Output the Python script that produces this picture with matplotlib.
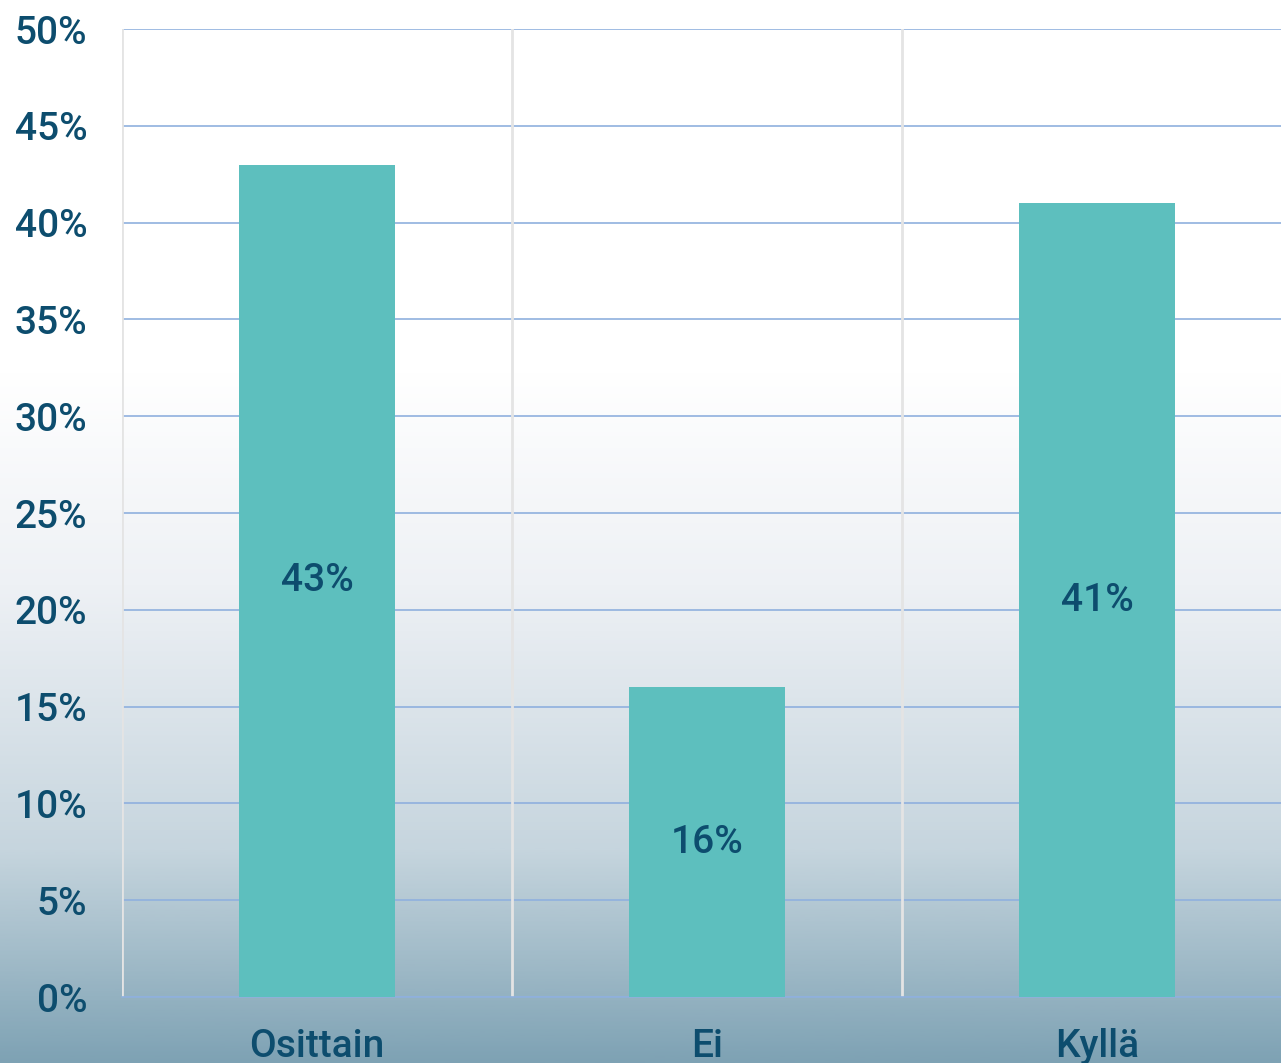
import numpy as np
import matplotlib
matplotlib.use("Agg")
import matplotlib.pyplot as plt
from matplotlib.colors import LinearSegmentedColormap

categories = ["Osittain", "Ei", "Kyllä"]
values = [43, 16, 41]
yticks = [0, 5, 10, 15, 20, 25, 30, 35, 40, 45, 50]

W, H = 1281, 1063
fig = plt.figure(figsize=(W / 100, H / 100), dpi=100)

# background gradient
bg = fig.add_axes([0, 0, 1, 1], zorder=-10)
cmap = LinearSegmentedColormap.from_list(
    "bg",
    [(0.0, "#ffffff"), (0.35, "#ffffff"), (0.55, "#eef1f5"), (0.80, "#c6d5de"), (1.0, "#7ea2b4")],
)
grad = np.linspace(0, 1, 512).reshape(-1, 1)
bg.imshow(grad, aspect="auto", cmap=cmap, extent=[0, 1, 0, 1], origin="upper")
bg.axis("off")

left = 122 / W
bottom = (H - 997) / H
top = (H - 29) / H
ax = fig.add_axes([left, bottom, 1 - left, top - bottom])
ax.patch.set_alpha(0)

txt = "#0d4d6e"
x = np.arange(len(categories))
ax.bar(x, values, width=0.4, color="#5dbfbe", zorder=3)
for xi, v in zip(x, values):
    ax.text(xi, v / 2, f"{v}%", ha="center", va="center", fontsize=28,
            color=txt, family="Roboto", fontweight="medium", zorder=4)

ax.set_ylim(0, 50)
ax.set_xlim(-0.5, -0.5 + (W - 122) / 390)
ax.set_yticks(yticks)
ax.set_yticklabels([f"{t}%" for t in yticks], fontsize=28, color=txt,
                   family="Roboto", fontweight="medium")
ax.set_xticks(x)
ax.set_xticklabels(categories, fontsize=28, color=txt, family="Roboto",
                   fontweight="medium")
ax.tick_params(axis="y", length=0, pad=25)
ax.tick_params(axis="x", length=0, pad=22)

ax.yaxis.grid(True, color="#8fb0de", linewidth=1.2, zorder=1)
for xs in [-0.5, 0.5, 1.5]:
    ax.axvline(xs, color="#e4e4e4", linewidth=2, zorder=2)
for s in ["top", "right", "left"]:
    ax.spines[s].set_visible(False)
ax.spines["bottom"].set_color("#8fb0de")
ax.spines["bottom"].set_linewidth(1.2)

fig.savefig("out.png", dpi=100)
